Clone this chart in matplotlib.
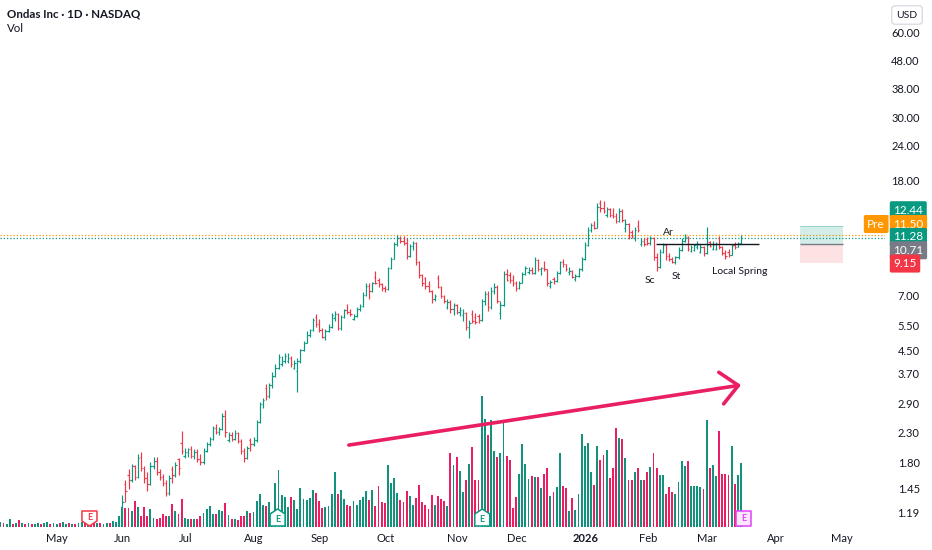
import numpy as np
import matplotlib
matplotlib.use("Agg")
import matplotlib.pyplot as plt
import matplotlib.ticker as ticker
from matplotlib.collections import LineCollection
from matplotlib.patches import Polygon, Rectangle

plt.rcParams['font.family'] = ['Lato', 'DejaVu Sans']

# Daily OHLC, Apr 3 2025 .. Mar 16 2026 (one value per trading day)
opens = [
    # Apr-May
    0.62, 0.65, 0.62, 0.64, 0.69, 0.66, 0.68, 0.65, 0.68, 0.66, 0.69, 0.67, 0.69, 0.71, 0.69, 0.72, 0.75, 0.73, 0.76, 0.77,
    0.75, 0.78, 0.79, 0.77, 0.80, 0.79, 0.82, 0.83, 0.80, 0.85, 0.84, 0.81, 0.84, 0.83, 0.86, 0.87, 0.85, 0.91, 0.97, 1.04,
    # Jun
    1.50, 1.62, 1.55, 1.74, 1.60, 1.88, 1.72, 1.58, 1.50, 1.75, 1.82, 1.66, 1.60, 1.52, 1.40, 1.70, 1.62, 1.84, 2.10, 1.90,
    # Jul
    1.96, 2.00, 1.90, 1.96, 1.84, 1.80, 1.98, 2.08, 2.18, 2.38, 2.30, 2.36, 2.62, 2.15, 2.24, 2.18, 2.28, 2.14, 1.98, 1.86, 2.16, 2.08,
    # Aug
    2.16, 2.50, 2.90, 3.30, 3.10, 3.38, 3.65, 3.90, 4.00, 4.12, 4.10, 4.20, 3.90, 3.80, 4.10, 4.50, 4.78, 5.10, 5.30, 5.90, 5.55,
    # Sep
    5.30, 5.00, 5.25, 5.45, 5.85, 6.05, 5.40, 5.90, 6.25, 6.15, 5.80, 5.95, 6.30, 6.45, 7.05, 7.60, 7.30, 8.20, 7.95, 7.70, 7.45,
    # Oct
    7.40, 8.80, 9.50, 10.70, 11.20, 11.00, 10.80, 9.70, 10.50, 10.80, 9.20, 8.30, 8.10, 7.60, 7.30, 6.80, 8.10, 7.55, 7.00, 6.40,
    6.65, 6.30, 6.50,
    # Nov
    6.15, 6.00, 6.10, 5.45, 6.05, 5.90, 5.95, 5.75, 6.70, 7.10, 6.40, 7.30, 7.55, 6.10, 6.50, 8.40, 8.30, 7.95, 7.80,
    # Dec
    7.45, 7.80, 8.40, 8.50, 8.65, 8.45, 9.40, 8.70, 8.80, 8.70, 7.60, 8.05, 7.90, 8.45, 9.20, 9.05, 8.50, 8.60, 8.05, 8.25, 8.70, 9.45,
    # Jan
    10.60, 12.00, 12.50, 12.20, 15.00, 14.40, 13.60, 14.20, 13.60, 13.40, 12.90, 14.00, 12.20, 12.60, 11.80, 11.20, 12.40, 10.70, 11.00, 11.10,
    # Feb
    10.80, 11.25, 9.60, 8.90, 10.00, 10.60, 9.70, 9.45, 9.25, 9.60, 10.20, 11.00, 11.30, 10.10, 10.20, 10.40, 10.00, 10.40, 9.90,
    # Mar
    10.90, 10.30, 10.30, 11.20, 10.40, 9.95, 10.00, 9.80, 10.60, 10.45, 10.80,
]
highs = [
    0.66, 0.66, 0.66, 0.70, 0.70, 0.70, 0.70, 0.69, 0.69, 0.70, 0.70, 0.70, 0.72, 0.72, 0.73, 0.76, 0.76, 0.77, 0.78, 0.78,
    0.79, 0.80, 0.80, 0.81, 0.82, 0.83, 0.84, 0.84, 0.86, 0.88, 0.85, 0.85, 0.86, 0.87, 0.88, 0.88, 0.92, 0.98, 1.05, 1.38,
    1.55, 1.70, 1.78, 1.76, 1.92, 1.95, 1.75, 1.66, 1.80, 1.88, 1.88, 1.70, 1.64, 1.56, 1.62, 1.75, 1.80, 1.86, 2.32, 2.02,
    2.02, 2.05, 2.00, 2.00, 1.92, 2.02, 2.12, 2.22, 2.42, 2.45, 2.40, 2.70, 2.75, 2.30, 2.30, 2.34, 2.30, 2.18, 2.02, 2.05, 2.20, 2.22,
    2.55, 2.95, 3.05, 3.40, 3.45, 3.75, 4.00, 4.35, 4.30, 4.38, 4.40, 4.30, 4.15, 4.20, 4.55, 4.85, 5.25, 5.35, 5.85, 6.05, 5.80,
    5.40, 5.35, 5.55, 6.10, 6.20, 6.10, 6.00, 6.30, 6.55, 6.30, 6.05, 6.40, 6.55, 7.20, 7.80, 7.75, 7.85, 8.60, 8.10, 7.80, 7.60,
    8.90, 9.60, 10.90, 11.50, 11.45, 11.40, 11.20, 10.70, 11.00, 10.90, 9.30, 8.35, 8.20, 7.90, 7.35, 7.10, 8.30, 7.60, 7.05, 6.80,
    6.75, 6.60, 6.55,
    6.40, 6.30, 6.15, 5.75, 6.25, 6.10, 6.05, 6.80, 7.30, 7.30, 7.50, 7.80, 7.65, 6.70, 8.60, 8.70, 8.50, 8.30, 7.90,
    7.90, 8.50, 8.95, 8.90, 8.90, 9.60, 9.50, 8.90, 9.30, 8.75, 8.00, 8.15, 8.60, 9.30, 9.50, 9.10, 8.85, 8.65, 8.35, 8.80, 9.60, 10.90,
    12.30, 12.70, 12.90, 15.00, 15.30, 15.20, 14.50, 14.30, 14.40, 13.80, 14.30, 14.20, 13.10, 12.70, 12.00, 12.30, 13.00, 11.20, 11.20, 11.30,
    11.40, 11.30, 9.90, 10.30, 10.80, 10.70, 9.90, 9.60, 9.70, 10.40, 11.20, 11.60, 11.40, 10.60, 10.70, 11.00, 10.70, 10.50, 12.30,
    11.00, 11.00, 10.90, 11.40, 10.50, 10.20, 10.30, 10.70, 10.90, 10.90, 11.50,
]
lows = [
    0.60, 0.61, 0.61, 0.63, 0.65, 0.65, 0.64, 0.64, 0.65, 0.66, 0.66, 0.66, 0.68, 0.68, 0.69, 0.71, 0.72, 0.72, 0.74, 0.74,
    0.74, 0.76, 0.76, 0.76, 0.78, 0.78, 0.80, 0.79, 0.79, 0.82, 0.80, 0.80, 0.82, 0.82, 0.84, 0.84, 0.85, 0.90, 0.96, 1.03,
    1.30, 1.45, 1.53, 1.55, 1.58, 1.68, 1.52, 1.42, 1.49, 1.70, 1.62, 1.55, 1.48, 1.36, 1.38, 1.52, 1.60, 1.62, 1.92, 1.86,
    1.88, 1.86, 1.85, 1.80, 1.76, 1.78, 1.95, 2.05, 2.15, 2.26, 2.25, 2.34, 2.22, 2.12, 2.14, 2.16, 2.10, 1.92, 1.80, 1.84, 1.98, 2.05,
    2.12, 2.48, 2.80, 3.00, 3.05, 3.30, 3.60, 3.85, 3.95, 4.05, 4.05, 3.92, 3.85, 3.20, 4.05, 4.45, 4.75, 5.00, 5.25, 5.45, 5.20,
    4.95, 4.90, 5.20, 5.40, 5.70, 5.30, 5.30, 5.85, 6.05, 5.95, 5.75, 5.90, 6.20, 6.40, 7.00, 6.80, 7.20, 7.70, 7.50, 7.30, 7.20,
    7.35, 8.70, 9.45, 10.50, 10.80, 10.60, 9.50, 9.60, 10.20, 9.00, 8.10, 7.60, 7.40, 7.20, 6.60, 6.70, 7.45, 6.90, 6.60, 6.30,
    6.10, 6.00, 6.05,
    5.95, 5.70, 5.30, 4.95, 5.60, 5.55, 5.60, 5.70, 6.50, 6.20, 6.30, 7.10, 6.60, 5.80, 6.45, 7.90, 7.80, 7.60, 7.30,
    7.40, 7.75, 8.30, 8.40, 8.35, 8.40, 8.60, 8.30, 8.60, 7.60, 7.45, 7.70, 7.85, 8.40, 8.90, 8.60, 8.30, 8.10, 7.90, 8.20, 8.60, 9.40,
    10.50, 11.80, 12.10, 12.20, 13.90, 13.80, 13.30, 13.30, 13.20, 12.70, 12.80, 12.80, 11.80, 11.10, 11.20, 11.00, 11.80, 10.50, 10.50, 10.60,
    10.60, 9.40, 8.60, 8.80, 9.95, 9.40, 9.30, 9.15, 9.05, 9.50, 10.10, 10.90, 10.10, 10.00, 10.10, 10.30, 9.90, 9.70, 9.85,
    10.40, 10.20, 10.20, 10.25, 9.80, 9.50, 9.60, 9.75, 10.30, 10.40, 10.70,
]
closes = [
    0.65, 0.62, 0.64, 0.69, 0.66, 0.68, 0.65, 0.68, 0.66, 0.69, 0.67, 0.69, 0.71, 0.69, 0.72, 0.75, 0.73, 0.76, 0.77, 0.75,
    0.78, 0.79, 0.77, 0.80, 0.79, 0.82, 0.83, 0.80, 0.85, 0.84, 0.81, 0.84, 0.83, 0.86, 0.87, 0.85, 0.91, 0.97, 1.04, 1.30,
    1.42, 1.55, 1.74, 1.60, 1.86, 1.72, 1.58, 1.50, 1.75, 1.82, 1.66, 1.60, 1.52, 1.40, 1.58, 1.62, 1.76, 1.72, 1.98, 1.96,
    2.00, 1.90, 1.96, 1.84, 1.80, 1.98, 2.08, 2.18, 2.38, 2.30, 2.36, 2.62, 2.30, 2.24, 2.18, 2.28, 2.14, 1.98, 1.86, 2.02, 2.08, 2.16,
    2.50, 2.90, 2.98, 3.10, 3.38, 3.65, 3.90, 4.25, 4.12, 4.30, 4.20, 4.00, 4.05, 4.10, 4.50, 4.78, 5.10, 5.30, 5.75, 5.55, 5.30,
    5.00, 5.25, 5.45, 6.00, 6.05, 5.40, 5.90, 6.25, 6.15, 6.05, 5.95, 6.30, 6.45, 7.05, 7.60, 7.30, 7.75, 7.80, 7.70, 7.45, 7.40,
    8.80, 9.50, 10.70, 11.20, 11.00, 10.80, 9.70, 10.50, 10.80, 9.20, 8.30, 7.75, 7.60, 7.30, 6.80, 7.00, 7.55, 7.00, 6.70, 6.65,
    6.30, 6.50, 6.15,
    6.25, 6.10, 5.45, 5.60, 5.70, 5.65, 5.75, 6.70, 7.10, 6.40, 7.30, 7.55, 6.70, 6.50, 8.40, 8.00, 7.95, 7.80, 7.45,
    7.80, 8.40, 8.80, 8.65, 8.45, 9.40, 8.70, 8.80, 8.70, 7.80, 7.85, 7.90, 8.45, 9.20, 9.05, 8.75, 8.60, 8.20, 8.25, 8.70, 9.45, 10.60,
    12.00, 12.50, 12.20, 14.50, 14.40, 14.00, 14.20, 13.60, 13.40, 12.90, 14.00, 13.00, 12.60, 11.30, 11.40, 12.00, 12.00, 11.00, 10.70, 10.80,
    11.25, 9.60, 8.90, 10.00, 10.60, 9.70, 9.45, 9.25, 9.60, 10.20, 11.00, 11.30, 10.30, 10.40, 10.60, 10.70, 10.40, 9.90, 10.60,
    10.50, 10.60, 10.70, 10.40, 9.95, 9.70, 9.80, 10.50, 10.45, 10.80, 11.28,
]
# volume in millions of shares
volumes = [
    5, 4, 3, 8, 3, 4, 7, 4, 3, 4, 3, 3, 4, 3, 4, 5, 3, 4, 3, 4,
    5, 3, 4, 3, 3, 4, 5, 6, 5, 8, 7, 4, 4, 3, 4, 4, 6, 5, 11, 20,
    19, 19, 16, 26, 20, 11, 20, 11, 18, 9, 8, 9, 13, 11, 11, 23, 16, 13, 28, 9,
    8, 8, 8, 8, 11, 14, 18, 21, 13, 13, 17, 16, 24, 12, 8, 8, 7, 11, 11, 16, 14, 15,
    26, 33, 22, 21, 25, 15, 44, 57, 32, 30, 20, 30, 27, 18, 39, 28, 27, 29, 37, 34, 26,
    19, 20, 21, 33, 55, 33, 37, 28, 22, 21, 26, 22, 27, 30, 36, 27, 37, 21, 41, 25, 24,
    62, 44, 49, 34, 27, 25, 36, 31, 22, 29, 42, 25, 22, 18, 32, 22, 31, 28, 26, 21, 74, 62, 70,
    56, 35, 47, 63, 80, 47, 47, 131, 108, 92, 107, 76, 70, 74, 105, 71, 67, 19, 30,
    53, 83, 63, 48, 51, 50, 50, 39, 53, 59, 31, 35, 40, 74, 41, 39, 16, 29, 17, 33, 93, 81,
    84, 55, 42, 81, 67, 72, 77, 49, 59, 99, 89, 88, 69, 47, 47, 55, 59, 47, 47, 55,
    60, 74, 59, 52, 52, 33, 40, 35, 33, 45, 66, 61, 66, 41, 41, 41, 40, 38, 107,
    59, 62, 51, 96, 53, 53, 52, 81, 43, 52, 64,
]

# calendar: bar index of May 1 2025, then trading days per month
first_month_bar = 19
month_days = [21, 20, 22, 21, 21, 23, 19, 22, 20, 19, 22, 21]
month_labels = ["May", "Jun", "Jul", "Aug", "Sep", "Oct", "Nov", "Dec", "2026", "Feb", "Mar", "Apr", "May"]
price_ticks = [60, 48, 38, 30, 24, 18, 7, 5.5, 4.5, 3.7, 2.9, 2.3, 1.8, 1.45, 1.19]

# earnings events (bar index) and their kind
earnings_bar = [28.5, 88.7, 154.2, 237.8]
earnings_kind = ["miss", "beat", "beat", "next"]

last_price = 11.28
pre_price = 11.50
entry, target, stop = 10.71, 12.44, 9.15

UP, DOWN = '#089981', '#f23645'
VOL_UP, VOL_DOWN = '#12927c', '#e91e63'
TXT = '#131722'

fig = plt.figure(figsize=(9.32, 5.5), dpi=100)
ax = fig.add_axes([0, 23 / 550, 885 / 932, 527 / 550])
axv = ax.twinx()
axv.set_zorder(0)
ax.set_zorder(1)
ax.patch.set_visible(False)

n = len(closes)
idx = np.arange(n)

# volume underneath
vcol = [VOL_UP if c >= o else VOL_DOWN for o, c in zip(opens, closes)]
axv.bar(idx, volumes, width=0.6, color=vcol, linewidth=0)
axv.set_ylim(0, max(volumes) / 0.249)
axv.axis('off')

# OHLC bars
segs, cols = [], []
for i in range(n):
    c = UP if closes[i] >= opens[i] else DOWN
    segs += [[(i, lows[i]), (i, highs[i])],
             [(i - 0.45, opens[i]), (i, opens[i])],
             [(i, closes[i]), (i + 0.45, closes[i])]]
    cols += [c, c, c]
ax.add_collection(LineCollection(segs, colors=cols, linewidths=0.85))

ax.set_yscale('log')
ax.set_ylim(1.06, 78.5)
ax.set_xlim(-0.13, 283.07)
for s in ax.spines.values():
    s.set_visible(False)

# price scale on the right
ax.yaxis.tick_right()
ax.set_yticks(price_ticks)
ax.set_yticklabels([f'{t:.2f}' for t in price_ticks])
ax.yaxis.set_minor_locator(ticker.NullLocator())
ax.tick_params(axis='y', length=0, pad=25, labelsize=8, labelcolor=TXT)
for lab in ax.get_yticklabels():
    lab.set_horizontalalignment('right')

# month axis
month_pos = first_month_bar + np.concatenate([[0], np.cumsum(month_days)])
ax.set_xticks(month_pos - 0.8)
ax.set_xticklabels(month_labels)
ax.tick_params(axis='x', length=0, pad=4, labelsize=8, labelcolor=TXT)
for lab in ax.get_xticklabels():
    if lab.get_text() == '2026':
        lab.set_fontweight('bold')

# current / premarket price lines
ax.axhline(pre_price, color='#ff9800', lw=0.9, ls=(0, (1, 1.6)), zorder=1)
ax.axhline(last_price, color=UP, lw=0.9, ls=(0, (1, 1.6)), zorder=1)

# range line and wyckoff labels
ax.hlines(entry, 209.8, 242.7, color=TXT, lw=1.0)
for txt, x, y in [('Ar', 213.9, 11.75), ('Sc', 207.9, 7.91), ('St', 216.2, 8.17), ('Local Spring', 236.7, 8.54)]:
    ax.text(x, y, txt, ha='center', va='center', fontsize=7.5, color=TXT)

# rising volume arrow
ax.annotate('', xy=(237.0, 3.38), xytext=(111.5, 2.07),
            arrowprops=dict(arrowstyle='->,head_length=1.25,head_width=1.15', mutation_scale=10,
                            color='#e91e63', lw=2.6, shrinkA=0, shrinkB=0))

# long position box
bx0, bw = 255.9, 13.7
ax.add_patch(Rectangle((bx0, entry), bw, target - entry, facecolor=UP, alpha=0.17, lw=0))
ax.add_patch(Rectangle((bx0, stop), bw, entry - stop, facecolor=DOWN, alpha=0.14, lw=0))
ax.hlines(entry, bx0, bx0 + bw, color='#787b86', lw=1.0)
ax.hlines(target, bx0, bx0 + bw, color=UP, lw=0.6, alpha=0.35)

# price tags on the scale
ytr = ax.get_yaxis_transform()
def price_tag(val, text, color, dy, dx=6, ha='left'):
    ax.annotate(text, xy=(1, val), xycoords=ytr, xytext=(dx, dy), textcoords='offset points',
                ha=ha, va='center', fontsize=8.5, color='white', annotation_clip=False,
                bbox=dict(boxstyle='round,pad=0.3,rounding_size=0.15', fc=color, ec='none'))

price_tag(target, f'{target:.2f}', UP, 11.0)
price_tag(pre_price, f'{pre_price:.2f}', '#ff9800', 8.0)
price_tag(pre_price, 'Pre', '#ff9800', 8.0, dx=0, ha='right')
price_tag(last_price, f'{last_price:.2f}', UP, 0.4)
price_tag(entry, f'{entry:.2f}', '#787b86', -4.6)
price_tag(stop, f'{stop:.2f}', DOWN, -0.3)

# earnings flags
deco = fig.add_axes(ax.get_position(), frameon=False)
deco.set_xlim(ax.get_xlim())
deco.set_ylim(527, 0)
deco.axis('off')
deco.set_zorder(3)
for b, kind in zip(earnings_bar, earnings_kind):
    w = 2.4
    if kind == 'miss':
        pts, ec, fc, ty = [(b - w, 511), (b + w, 511), (b + w, 521), (b, 526), (b - w, 521)], DOWN, 'white', 517
    elif kind == 'beat':
        pts, ec, fc, ty = [(b - w, 514), (b, 509), (b + w, 514), (b + w, 526), (b - w, 526)], UP, 'white', 519.5
    else:
        pts, ec, fc, ty = [(b - w, 511), (b + w, 511), (b + w, 526), (b - w, 526)], '#e040fb', '#fbe7fd', 518.5
    deco.add_patch(Polygon(pts, closed=True, fc=fc, ec=ec, lw=1.1, joinstyle='round'))
    deco.text(b, ty, 'E', ha='center', va='center', fontsize=6.5, fontweight='bold', color=ec)

# header
fig.text(7 / 932, 1 - 14 / 550, 'Ondas Inc · 1D · NASDAQ', fontsize=8.3, fontweight='bold',
         va='center', color=TXT)
fig.text(7 / 932, 1 - 28 / 550, 'Vol', fontsize=8.3, va='center', color=TXT)
fig.text(907 / 932, 1 - 15 / 550, 'USD', ha='center', va='center', fontsize=7.5, color=TXT,
         bbox=dict(boxstyle='round,pad=0.45,rounding_size=0.3', fc='white', ec='#d1d4dc', lw=0.8))

fig.savefig('out.png', dpi=100, facecolor='white')
